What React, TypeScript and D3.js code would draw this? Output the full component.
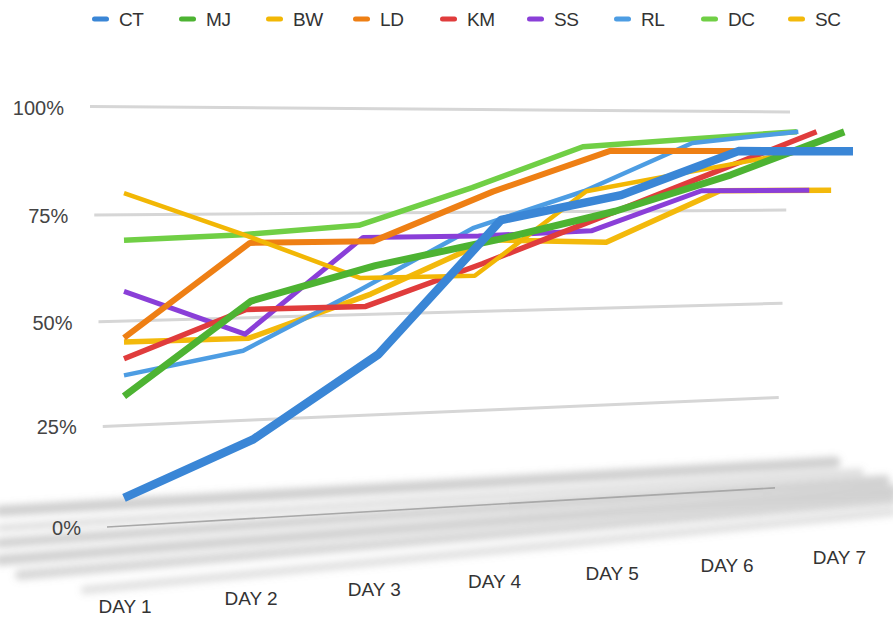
import React from "react";
import * as d3 from "d3";

// ---- data ----
const days = ["DAY 1", "DAY 2", "DAY 3", "DAY 4", "DAY 5", "DAY 6", "DAY 7"];
const seriesNames = ["CT", "MJ", "BW", "LD", "KM", "SS", "RL", "DC", "SC"];
const CT = [7, 20, 40, 73, 79, 90, 90];
const MJ = [32, 54, 62, 68, 75, 84, 95];
const BW = [80, 70, 59, 59, 80, 85, 90];
const LD = [46, 68, 68, 80, 90, 90, 90];
const KM = [41, 52, 52, 62, 73, 84, 95];
const SS = [57, 46, 69, 69, 70, 80, 80];
const RL = [37, 42, 56, 71, 80, 92, 95];
const DC = [69, 70, 72, 81, 91, 93, 95];
const SC = [45, 45, 55, 68, 67, 80, 80];
const yTicks = [0, 25, 50, 75, 100];

const seriesValues = [CT, MJ, BW, LD, KM, SS, RL, DC, SC];

// ---- styling (colour, ribbon depth, stroke width) ----
const colors = ["#3a86d6", "#4db332", "#f2b705", "#ee7f14", "#e03c3c", "#8a3fd8", "#4d9de3", "#70cf45", "#f3b90b"];
const depth = [1.0, 0.988, 0.93, 0.978, 0.95, 0.94, 0.925, 0.923, 0.97];
const widths = [8.5, 7, 4.5, 6, 5.5, 5, 4.5, 5.5, 5.5];

const W = 893;
const H = 620;
const FONT = "'Liberation Sans', Arial, Helvetica, sans-serif";

// perspective plane: gridlines are straight but tilted, converging to the right
const PLANE_L = 90;
const PLANE_R = 790;
const yLeft = d3.scaleLinear().domain([0, 25, 50, 75, 100]).range([528, 427, 322, 215, 106.5]);
const yRight = d3.scaleLinear().domain([0, 25, 50, 75, 100]).range([487, 397, 303, 210, 112]);
const gridStart = d3.scaleLinear().domain([0, 100]).range([107, 90]);
const gridEnd = d3.scaleLinear().domain([0, 100]).range([775, 790]);

const yAt = (x: number, v: number) => {
  const t = (x - PLANE_L) / (PLANE_R - PLANE_L);
  return yLeft(v) + (yRight(v) - yLeft(v)) * t;
};

// category positions, foreshortened toward the back
const dayPos = d3.scalePoint<string>().domain(days).range([0, 1]);
const X0 = 124;
const XSPAN = 729;
const persp = 0.072;
const warp = (t: number) => (t * (1 + persp)) / (1 + persp * t);
const baseX = (d: string) => X0 + XSPAN * warp(dayPos(d) as number);
const seriesX = (d: string, k: number) => X0 + (baseX(d) - X0) * k;

// soft shadows on the floor
const floorBands = [
  { x1: 0, y1: 511, x2: 835, y2: 462, w: 11, o: 0.42 },
  { x1: 0, y1: 528, x2: 860, y2: 472, w: 7, o: 0.3 },
  { x1: 0, y1: 543, x2: 885, y2: 480, w: 10, o: 0.4 },
  { x1: 0, y1: 560, x2: 893, y2: 490, w: 11, o: 0.4 },
  { x1: 20, y1: 575, x2: 893, y2: 500, w: 10, o: 0.36 },
  { x1: 85, y1: 590, x2: 893, y2: 512, w: 8, o: 0.28 },
];

export default function App() {
  const line = d3
    .line<[number, number]>()
    .x((p) => p[0])
    .y((p) => p[1]);

  const order = d3.range(seriesNames.length).reverse();

  return (
    <svg
      width={W}
      height={H}
      viewBox={`0 0 ${W} ${H}`}
      style={{ position: "absolute", left: 0, top: 0, background: "#fff" }}
      fontFamily={FONT}
    >
      <defs>
        <filter id="floorBlur" x="-5%" y="-200%" width="110%" height="500%">
          <feGaussianBlur stdDeviation="3.5" />
        </filter>
        <filter id="soft" x="-2%" y="-50%" width="104%" height="200%">
          <feGaussianBlur stdDeviation="0.6" />
        </filter>
      </defs>

      {/* floor */}
      <g filter="url(#floorBlur)">
        {floorBands.map((b, i) => (
          <line
            key={i}
            x1={b.x1}
            y1={b.y1}
            x2={b.x2}
            y2={b.y2}
            stroke="#8c8c8c"
            strokeOpacity={b.o}
            strokeWidth={b.w}
            strokeLinecap="round"
          />
        ))}
      </g>

      {/* gridlines */}
      <g filter="url(#soft)">
        {yTicks.map((v) => (
          <line
            key={v}
            x1={gridStart(v)}
            y1={yAt(gridStart(v), v)}
            x2={gridEnd(v)}
            y2={yAt(gridEnd(v), v)}
            stroke={v === 0 ? "#a8a8a8" : "#d6d6d6"}
            strokeWidth={v === 0 ? 1.6 : 3}
          />
        ))}
      </g>

      {/* y axis labels */}
      {yTicks.map((v) => (
        <text
          key={v}
          x={gridStart(v) - 26}
          y={yAt(gridStart(v), v) + 1}
          textAnchor="end"
          dominantBaseline="central"
          fontSize={20}
          fill="#444"
        >
          {v}%
        </text>
      ))}

      {/* series */}
      {order.map((si) => {
        const pts = days.map((d, i) => {
          const x = seriesX(d, depth[si]);
          return [x, yAt(x, seriesValues[si][i])] as [number, number];
        });
        return (
          <path
            key={seriesNames[si]}
            d={line(pts) || ""}
            fill="none"
            stroke={colors[si]}
            strokeWidth={widths[si]}
            strokeLinejoin="round"
            strokeLinecap="butt"
          />
        );
      })}

      {/* category labels */}
      {days.map((d) => {
        const x = X0 + (baseX(d) - X0) * 0.98 + 1;
        const y = 607 - (x - 124) * 0.069;
        return (
          <text key={d} x={x} y={y} textAnchor="middle" dominantBaseline="central" fontSize={19} fill="#333">
            {d}
          </text>
        );
      })}

      {/* legend */}
      {seriesNames.map((n, i) => {
        const x = 92 + i * 87;
        return (
          <g key={n} transform={`translate(${x},19)`}>
            <rect x={0} y={-2.5} width={17} height={5} rx={2.5} fill={colors[i]} />
            <text x={27} y={0} dominantBaseline="central" fontSize={19} fill="#333" letterSpacing={-0.4}>
              {n}
            </text>
          </g>
        );
      })}
    </svg>
  );
}
